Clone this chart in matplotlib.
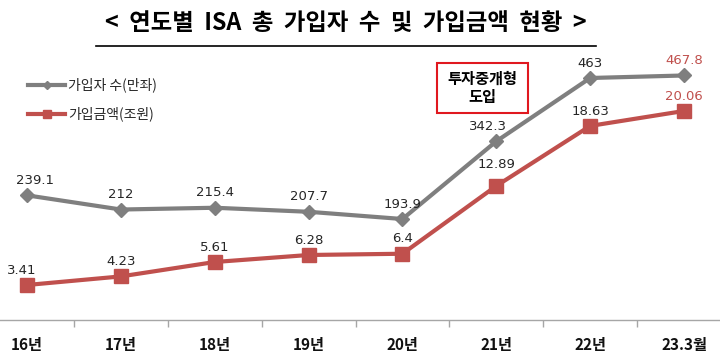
import matplotlib
matplotlib.use("Agg")
import matplotlib.pyplot as plt
from matplotlib.patches import Rectangle
from matplotlib.lines import Line2D

plt.rcParams['font.family'] = ['Noto Sans CJK KR', 'DejaVu Sans']

categories = ["16년", "17년", "18년", "19년", "20년", "21년", "22년", "23.3월"]
subscribers = [239.1, 212, 215.4, 207.7, 193.9, 342.3, 463, 467.8]
amounts = [3.41, 4.23, 5.61, 6.28, 6.4, 12.89, 18.63, 20.06]
sub_labels = ["239.1", "212", "215.4", "207.7", "193.9", "342.3", "463", "467.8"]
amt_labels = ["3.41", "4.23", "5.61", "6.28", "6.4", "12.89", "18.63", "20.06"]
title = "<  연도별  ISA  총  가입자  수  및  가입금액  현황  >"
legend_names = ["가입자 수(만좌)", "가입금액(조원)"]
note = "투자중개형\n도입"

GRAY = "#7f7f7f"
RED = "#c0504d"
TXT = "#262626"

fig = plt.figure(figsize=(7.2, 3.61), dpi=100)
W, H = 720, 361
bottom_px, top_px = 320, 40
ax = fig.add_axes([0, (H - bottom_px) / H, 1, (bottom_px - top_px) / H])
ax2 = ax.twinx()

x = list(range(len(categories)))
ax.set_xlim(-0.288, 7.383)
ax.set_ylim(1.2, 535.5)
ax2.set_ylim(0.06, 26.85)

ax.plot(x, subscribers, color=GRAY, lw=3, marker='D', ms=7, mfc=GRAY, mec=GRAY, zorder=3)
ax2.plot(x, amounts, color=RED, lw=3, marker='s', ms=9.5, mfc=RED, mec=RED, zorder=3)

for i, (v, s) in enumerate(zip(subscribers, sub_labels)):
    c = RED if i == len(subscribers) - 1 else TXT
    dx = -6 if i == 5 else (6 if i == 0 else 0)
    ax.annotate(s, (i, v), xytext=(dx, 6), textcoords='offset points', ha='center', va='bottom',
                fontsize=9.5, color=c, family=['DejaVu Sans'])
for i, (v, s) in enumerate(zip(amounts, amt_labels)):
    c = RED if i == len(amounts) - 1 else TXT
    dx = -4 if i == 0 else 0
    dy = 11 if i == 5 else 6
    ax2.annotate(s, (i, v), xytext=(dx, dy), textcoords='offset points', ha='center', va='bottom',
                 fontsize=9.5, color=c, family=['DejaVu Sans'])

for a in (ax, ax2):
    for sp in ('top', 'left', 'right'):
        a.spines[sp].set_visible(False)
    a.set_yticks([])
ax2.spines['bottom'].set_visible(False)
ax.spines['bottom'].set_color('#a6a6a6')
ax.spines['bottom'].set_linewidth(1)

ax.set_xticks(x)
ax.set_xticklabels(categories, fontsize=11, fontweight='bold', color='#111111')
ax.tick_params(axis='x', length=0, pad=12)
ax.set_xticks([i + 0.5 for i in range(len(categories) - 1)], minor=True)
ax.tick_params(axis='x', which='minor', length=5, color='#a6a6a6', width=1)

# Title with underline
fig.text(346 / W, 1 - 23 / H, title, ha='center', va='center', fontsize=16.8, fontweight='bold', color='black')
fig.add_artist(Line2D([96 / W, 596 / W], [1 - 46 / H, 1 - 46 / H], color='black', lw=1.2))

# Legend (manual)
for k, (name, col, mk, ms) in enumerate(zip(legend_names, [GRAY, RED], ['D', 's'], [4, 6])):
    yy = 1 - (85 + 29 * k) / H
    fig.add_artist(Line2D([28 / W, 65 / W], [yy, yy], color=col, lw=3))
    fig.add_artist(Line2D([46.5 / W], [yy], color=col, marker=mk, ms=ms, lw=0))
    fig.text(68 / W, yy, name, ha='left', va='center', fontsize=10, color=TXT)

# Note box
fig.add_artist(Rectangle((437 / W, 1 - 113 / H), 91 / W, 50 / H, fill=False, edgecolor='#e0181f', lw=1.5))
fig.text(482.5 / W, 1 - 88 / H, note, ha='center', va='center', fontsize=11, fontweight='bold',
         color='black', linespacing=1.2)

fig.savefig("out.png", dpi=100)
